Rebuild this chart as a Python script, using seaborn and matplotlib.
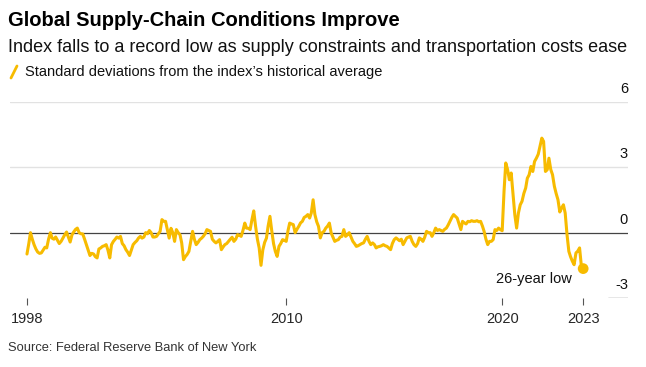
import numpy as np
import pandas as pd
import seaborn as sns
import matplotlib.pyplot as plt
from matplotlib.lines import Line2D

# GSCPI, standard deviations from average, monthly from Jan 1998
y1998 = [-0.98, -0.5, 0.0, -0.3, -0.55, -0.75, -0.89, -0.95, -0.93, -0.8, -0.67, -0.7]
y1999 = [-0.3, 0.0, -0.25, -0.3, -0.2, -0.35, -0.5, -0.4, -0.25, -0.1, 0.03, -0.2]
y2000 = [-0.43, -0.1, 0.03, 0.15, 0.21, 0.0, -0.05, -0.06, -0.3, -0.55, -0.8, -1.05]
y2001 = [-0.95, -0.98, -1.1, -1.16, -0.75, -0.7, -0.63, -0.6, -0.55, -0.8, -1.16, -0.55]
y2002 = [-0.4, -0.3, -0.2, -0.25, -0.17, -0.5, -0.6, -0.78, -0.9, -1.05, -0.8, -0.55]
y2003 = [-0.45, -0.37, -0.25, -0.17, -0.25, -0.2, 0.0, -0.05, 0.1, 0.0, -0.2, -0.2]
y2004 = [-0.17, -0.05, 0.06, 0.6, 0.52, 0.52, 0.14, -0.25, 0.2, 0.0, -0.4, 0.14]
y2005 = [0.0, -0.1, -0.47, -1.24, -1.1, -1.0, -0.86, -0.4, 0.06, -0.3, -0.55, -0.45]
y2006 = [-0.32, -0.25, -0.17, -0.05, 0.14, 0.1, 0.06, -0.3, -0.4, -0.47, -0.4, -0.32]
y2007 = [-0.78, -0.65, -0.55, -0.5, -0.4, -0.3, -0.21, -0.4, -0.3, -0.09, -0.12, -0.17]
y2008 = [0.1, 0.44, 0.21, 0.2, 0.14, 0.6, 1.0, 0.3, -0.3, -0.7, -1.5, -0.8]
y2009 = [-0.45, -0.25, 0.3, 0.75, 0.1, -0.5, -0.86, -1.09, -0.63, -0.5, -0.32, -0.35]
y2010 = [-0.4, 0.1, 0.44, 0.4, 0.37, 0.0, 0.15, 0.29, 0.45, 0.52, 0.7, 0.75]
y2011 = [0.83, 0.67, 0.9, 1.51, 0.83, 0.5, 0.29, -0.24, 0.0, 0.06, 0.21, 0.3]
y2012 = [0.44, -0.02, -0.2, -0.4, -0.35, -0.32, -0.2, -0.17, 0.14, -0.17, -0.1, 0.0]
y2013 = [-0.2, -0.4, -0.5, -0.63, -0.6, -0.55, -0.5, -0.47, -0.3, -0.17, -0.4, -0.55]
y2014 = [-0.47, -0.55, -0.7, -0.65, -0.63, -0.6, -0.55, -0.6, -0.63, -0.7, -0.78, -0.5]
y2015 = [-0.32, -0.24, -0.3, -0.37, -0.3, -0.55, -0.4, -0.24, -0.2, -0.17, -0.4, -0.55]
y2016 = [-0.63, -0.5, -0.24, -0.3, -0.4, -0.2, 0.06, 0.0, 0.0, -0.17, 0.0, 0.21]
y2017 = [0.1, 0.14, 0.1, 0.06, 0.15, 0.21, 0.35, 0.52, 0.7, 0.83, 0.75, 0.67]
y2018 = [0.4, 0.14, 0.52, 0.45, 0.4, 0.52, 0.5, 0.55, 0.52, 0.52, 0.55, 0.5]
y2019 = [0.52, 0.3, 0.06, -0.3, -0.55, -0.4, -0.4, -0.32, 0.14, 0.1, 0.21, 0.14]
y2020 = [0.09, 1.9, 3.2, 2.9, 2.43, 2.74, 1.8, 0.83, 0.21, 0.9, 1.28, 1.44]
y2021 = [1.8, 2.05, 2.5, 2.66, 3.04, 2.81, 3.27, 3.42, 3.6, 3.96, 4.34, 4.19]
y2022 = [2.81, 2.89, 3.42, 2.9, 2.66, 2.13, 1.8, 1.51, 0.95, 1.13, 1.28, 0.9]
y2023 = [-0.09, -0.86, -1.1, -1.31, -1.47, -0.93, -0.85, -0.7, -1.54, -1.65]

tick_years = ['1998', '2010', '2020', '2023']
y_levels = [6, 3, 0, -3]

values = (y1998 + y1999 + y2000 + y2001 + y2002 + y2003 + y2004 + y2005 + y2006
          + y2007 + y2008 + y2009 + y2010 + y2011 + y2012 + y2013 + y2014 + y2015
          + y2016 + y2017 + y2018 + y2019 + y2020 + y2021 + y2022 + y2023)
dates = pd.date_range('1998-01-01', periods=len(values), freq='MS')
df = pd.DataFrame({'date': dates, 'gscpi': values})

YELLOW = '#F7BB00'
W, H = 646, 367

sns.set_style('white')
plt.rcParams['font.family'] = ['Liberation Sans', 'DejaVu Sans']

fig = plt.figure(figsize=(W / 100, H / 100), dpi=100)
ax = fig.add_axes([10 / W, (H - 298) / H, 618 / W, 196 / H])

for lv in [3, 6]:
    ax.axhline(lv, color='#e2e2e2', lw=1.0, zorder=1)
ax.axhline(0, color='#444444', lw=0.9, zorder=2)
ax.axhline(-3, xmin=0.968, xmax=1, color='#444444', lw=0.9, zorder=2)

sns.lineplot(data=df, x='date', y='gscpi', ax=ax, color=YELLOW, lw=2.2, zorder=3)
sns.scatterplot(data=df.tail(1), x='date', y='gscpi', ax=ax, color=YELLOW,
                s=60, edgecolor='none', zorder=4)

ax.annotate('26-year low', xy=(df['date'].iloc[-1], df['gscpi'].iloc[-1]),
            xytext=(-11, -10), textcoords='offset pixels', ha='right', va='center',
            fontsize=10.5, color='#111111')

start = dates[0]
ax.set_xlim(start - pd.Timedelta(days=287), start + pd.Timedelta(days=10162))
ax.set_ylim(-3, 6)

ax.set_xticks([dates[0], pd.Timestamp('2010-01-01'), pd.Timestamp('2020-01-01'), dates[-1]])
ax.set_xticklabels(tick_years)
ax.tick_params(axis='x', length=5, width=0.8, color='#555555', pad=5, labelsize=10.5,
               direction='out', bottom=True)
ax.set_yticks([])
ax.set_xlabel('')
ax.set_ylabel('')
for s in ax.spines.values():
    s.set_visible(False)

for lv in y_levels:
    ax.annotate(str(lv), xy=(1, lv), xycoords=('axes fraction', 'data'),
                xytext=(0, 9), textcoords='offset pixels', ha='right', va='baseline',
                fontsize=10.5, color='#111111')

fig.text(8 / W, 1 - 20 / H, 'Global Supply-Chain Conditions Improve', fontsize=14.5,
         fontweight='bold', va='center', ha='left', color='#000000')
fig.text(8 / W, 1 - 47 / H,
         'Index falls to a record low as supply constraints and transportation costs ease',
         fontsize=13, va='center', ha='left', color='#111111')
fig.add_artist(Line2D([11 / W, 17 / W], [1 - 78 / H, 1 - 66 / H], color=YELLOW, lw=2,
                      transform=fig.transFigure))
fig.text(25 / W, 1 - 72 / H, "Standard deviations from the index\u2019s historical average",
         fontsize=10.5, va='center', ha='left', color='#111111')
fig.text(8 / W, 1 - 348 / H, 'Source: Federal Reserve Bank of New York', fontsize=9.3,
         va='center', ha='left', color='#333333')

fig.savefig('out.png', dpi=100)
